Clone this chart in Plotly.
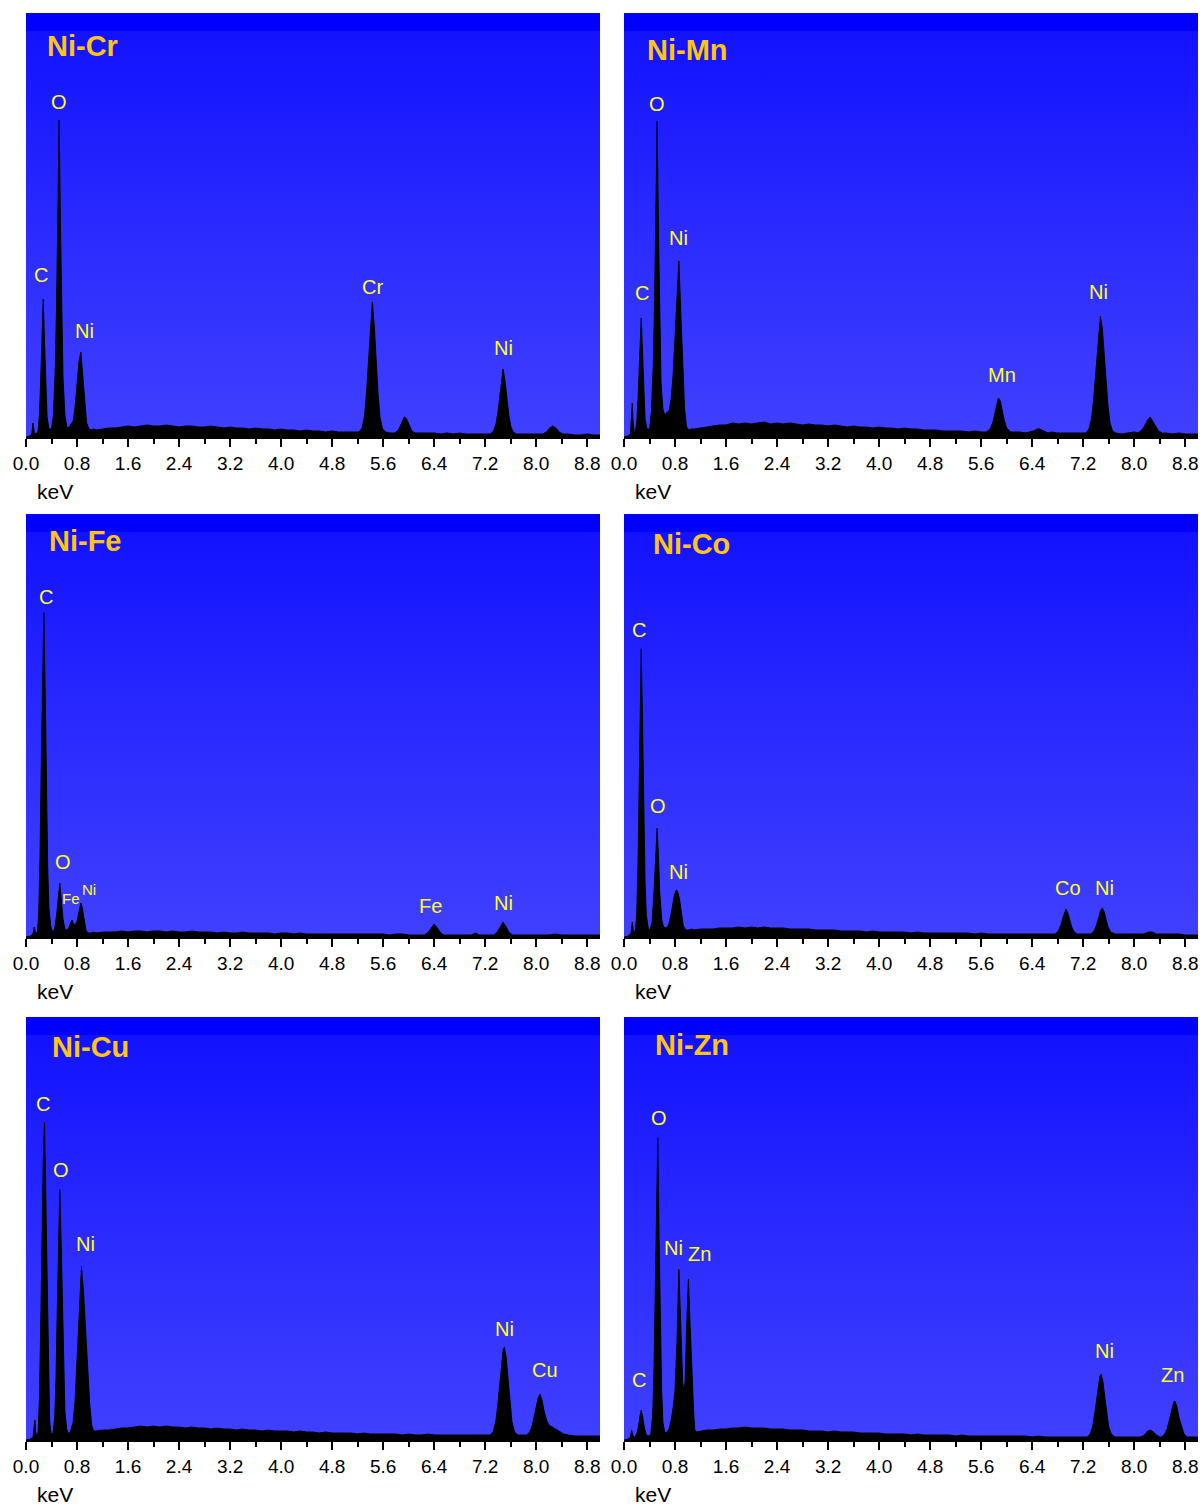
import plotly.graph_objects as go

# ---------------------------------------------------------------------------
# EDS spectra of six Ni-based samples. Counts are in arbitrary units.
# Each spectrum = low-energy cluster (C, O, L lines) + continuum sampled every
# 0.1 keV from 1.1 keV to 9.0 keV + K-line peak outlines.
# ---------------------------------------------------------------------------
CONT_START, CONT_STEP = 1.1, 0.1

# ---- Ni-Cr ----
ni_cr_low = [(0.00, 0), (0.06, 1), (0.09, 3), (0.11, 14), (0.13, 4), (0.16, 3), (0.19, 6),
             (0.21, 22), (0.23, 55), (0.25, 100), (0.27, 138), (0.29, 95), (0.31, 50), (0.33, 20),
             (0.36, 8), (0.40, 8), (0.43, 22), (0.46, 70), (0.48, 135), (0.50, 220), (0.52, 317),
             (0.54, 210), (0.56, 125), (0.58, 60), (0.61, 22), (0.64, 10), (0.66, 9), (0.70, 12),
             (0.74, 16), (0.77, 30), (0.80, 52), (0.83, 75), (0.86, 85), (0.89, 60), (0.92, 32),
             (0.95, 14), (0.99, 8), (1.03, 7), (1.06, 8)]
ni_cr_cont = [7, 8, 9, 9, 10, 11, 10, 11, 12, 11,
              11, 12, 11, 10, 11, 11, 10, 10, 11, 10,
              9, 10, 9, 9, 8, 9, 8, 8, 7, 8,
              7, 7, 6, 7, 6, 6, 5, 6, 5, 5,
              5, 5, 5, 5, 5, 5, 4, 5, 5, 4,
              4, 4, 4, 4, 3, 4, 3, 4, 3, 3,
              3, 3, 3, 3, 3, 3, 3, 3, 3, 3,
              3, 3, 3, 3, 3, 2, 2, 3, 2, 2]
ni_cr_peaks = [
    [(5.22, 5), (5.27, 9), (5.31, 22), (5.34, 45), (5.37, 78), (5.40, 115), (5.43, 135),
     (5.46, 112), (5.49, 76), (5.52, 43), (5.55, 20), (5.59, 8), (5.64, 5)],            # Cr Ka
    [(5.78, 4), (5.84, 7), (5.89, 14), (5.93, 20), (5.96, 19), (6.00, 13), (6.05, 6), (6.10, 4)],  # Cr Kb
    [(7.28, 3), (7.33, 6), (7.37, 13), (7.40, 25), (7.43, 40), (7.46, 58), (7.48, 68),
     (7.51, 56), (7.54, 38), (7.57, 22), (7.60, 11), (7.64, 5), (7.69, 3)],             # Ni Ka
    [(8.10, 3), (8.16, 5), (8.21, 9), (8.26, 11), (8.31, 9), (8.36, 5), (8.42, 3)],      # Ni Kb
]
ni_cr_labels = [("O", 0.52, 335), ("C", 0.24, 162), ("Ni", 0.91, 106),
                ("Cr", 5.43, 150), ("Ni", 7.48, 89)]

# ---- Ni-Mn ----
ni_mn_low = [(0.00, 0), (0.06, 1), (0.10, 3), (0.12, 20), (0.13, 34), (0.14, 18), (0.16, 5),
             (0.18, 6), (0.20, 15), (0.22, 38), (0.24, 75), (0.27, 119), (0.29, 85), (0.31, 45),
             (0.33, 18), (0.36, 8), (0.40, 8), (0.43, 25), (0.46, 75), (0.48, 140), (0.50, 225),
             (0.52, 316), (0.54, 205), (0.56, 120), (0.58, 55), (0.61, 28), (0.64, 22), (0.68, 25),
             (0.71, 27), (0.74, 38), (0.77, 62), (0.80, 100), (0.83, 145), (0.86, 176), (0.89, 125),
             (0.92, 70), (0.95, 28), (0.98, 10), (1.02, 7), (1.06, 8)]
ni_mn_cont = [8, 9, 10, 11, 12, 12, 14, 13, 14, 13,
              14, 15, 13, 14, 13, 14, 13, 12, 13, 12,
              12, 11, 12, 11, 10, 11, 10, 10, 9, 10,
              9, 9, 8, 9, 8, 8, 7, 7, 7, 6,
              6, 6, 6, 5, 6, 5, 5, 5, 5, 5,
              5, 5, 4, 5, 7, 6, 5, 4, 4, 4,
              4, 4, 4, 4, 4, 4, 4, 3, 4, 5,
              4, 4, 4, 4, 4, 3, 4, 3, 3, 3]
ni_mn_peaks = [
    [(5.68, 5), (5.74, 8), (5.78, 14), (5.81, 22), (5.84, 31), (5.87, 39), (5.90, 36),
     (5.93, 27), (5.96, 17), (6.00, 9), (6.06, 5)],                                      # Mn Ka
    [(6.35, 5), (6.42, 6), (6.48, 8), (6.52, 8), (6.58, 6), (6.65, 4)],                  # Mn Kb
    [(7.24, 4), (7.29, 8), (7.33, 18), (7.36, 35), (7.39, 60), (7.42, 88), (7.45, 112),
     (7.47, 121), (7.50, 108), (7.53, 82), (7.56, 55), (7.59, 30), (7.62, 14), (7.66, 6),
     (7.71, 4)],                                                                         # Ni Ka
    [(8.06, 4), (8.12, 7), (8.17, 12), (8.21, 17), (8.25, 20), (8.29, 16), (8.33, 11),
     (8.38, 6), (8.44, 4)],                                                              # Ni Kb
]
ni_mn_labels = [("O", 0.52, 333), ("Ni", 0.85, 199), ("C", 0.28, 144),
                ("Ni", 7.44, 145), ("Mn", 5.93, 62)]

# ---- Ni-Fe ----
ni_fe_low = [(0.00, 0), (0.07, 1), (0.11, 3), (0.13, 10), (0.15, 4), (0.18, 5), (0.20, 25),
             (0.22, 80), (0.24, 175), (0.26, 270), (0.28, 325), (0.30, 250), (0.32, 150),
             (0.34, 70), (0.36, 28), (0.39, 10), (0.42, 5), (0.45, 8), (0.48, 22), (0.51, 42),
             (0.53, 54), (0.55, 40), (0.58, 18), (0.61, 8), (0.64, 7), (0.67, 9), (0.70, 15),
             (0.72, 17), (0.74, 14), (0.77, 12), (0.80, 16), (0.83, 26), (0.86, 34), (0.88, 30),
             (0.91, 17), (0.94, 7), (0.97, 4), (1.02, 4), (1.06, 5)]
ni_fe_cont = [4, 5, 5, 5, 6, 5, 6, 6, 5, 6,
              6, 5, 6, 5, 5, 6, 5, 5, 5, 4,
              5, 4, 4, 5, 4, 4, 4, 4, 3, 4,
              4, 3, 4, 3, 3, 3, 3, 3, 3, 3,
              3, 3, 3, 3, 3, 3, 2, 3, 3, 2,
              2, 2, 2, 2, 2, 2, 2, 2, 2, 3,
              3, 2, 2, 2, 2, 2, 2, 2, 2, 2,
              2, 2, 3, 2, 2, 2, 2, 2, 2, 2]
ni_fe_peaks = [
    [(6.25, 2), (6.31, 5), (6.35, 9), (6.40, 13), (6.45, 9), (6.49, 5), (6.55, 2)],      # Fe Ka
    [(6.98, 2), (7.05, 4), (7.11, 2)],                                                   # Fe Kb
    [(7.33, 2), (7.39, 5), (7.43, 10), (7.48, 15), (7.53, 10), (7.57, 5), (7.63, 2)],    # Ni Ka
]
ni_fe_labels = [("C", 0.31, 341), ("O", 0.58, 75), ("Fe", 6.35, 31), ("Ni", 7.48, 34)]
ni_fe_small_labels = [("Fe", 0.71, 39), ("Ni", 0.99, 48)]

# ---- Ni-Co ----
ni_co_low = [(0.00, 0), (0.07, 1), (0.11, 4), (0.13, 15), (0.15, 5), (0.18, 6), (0.20, 25),
             (0.22, 75), (0.24, 160), (0.26, 245), (0.27, 289), (0.29, 215), (0.31, 120),
             (0.33, 55), (0.35, 22), (0.38, 9), (0.41, 7), (0.44, 15), (0.47, 45), (0.50, 85),
             (0.52, 109), (0.54, 80), (0.56, 45), (0.59, 18), (0.62, 10), (0.66, 9), (0.70, 12),
             (0.73, 20), (0.76, 32), (0.79, 42), (0.82, 47), (0.84, 46), (0.87, 38), (0.90, 22),
             (0.93, 11), (0.97, 7), (1.02, 7), (1.06, 8)]
ni_co_cont = [7, 8, 8, 8, 9, 9, 9, 10, 9, 10,
              9, 10, 9, 9, 9, 8, 8, 8, 8, 7,
              7, 7, 7, 6, 6, 6, 6, 5, 6, 5,
              5, 5, 5, 5, 4, 5, 4, 4, 4, 4,
              4, 4, 4, 4, 3, 4, 3, 3, 3, 3,
              3, 3, 3, 3, 3, 3, 3, 3, 3, 3,
              3, 3, 3, 3, 3, 3, 3, 3, 3, 3,
              3, 3, 4, 3, 3, 3, 3, 2, 2, 2]
ni_co_peaks = [
    [(6.76, 3), (6.81, 6), (6.85, 12), (6.88, 19), (6.91, 25), (6.93, 28), (6.96, 24),
     (6.99, 17), (7.02, 10), (7.06, 5), (7.11, 3)],                                      # Co Ka
    [(7.32, 3), (7.37, 6), (7.41, 12), (7.44, 19), (7.47, 26), (7.50, 29), (7.53, 25),
     (7.56, 17), (7.59, 10), (7.63, 5), (7.68, 3)],                                      # Ni Ka
    [(8.15, 3), (8.22, 5), (8.28, 5), (8.35, 3)],                                        # Ni Kb
]
ni_co_labels = [("C", 0.24, 308), ("O", 0.53, 131), ("Ni", 0.86, 65),
                ("Co", 6.96, 49), ("Ni", 7.53, 49)]

# ---- Ni-Cu ----
ni_cu_low = [(0.00, 0), (0.07, 1), (0.11, 3), (0.13, 12), (0.14, 20), (0.15, 8), (0.17, 4),
             (0.19, 8), (0.21, 40), (0.23, 110), (0.25, 200), (0.27, 280), (0.29, 318),
             (0.31, 240), (0.33, 140), (0.35, 60), (0.37, 20), (0.39, 7), (0.42, 6), (0.45, 22),
             (0.47, 60), (0.49, 130), (0.51, 200), (0.53, 251), (0.55, 200), (0.57, 130),
             (0.59, 65), (0.61, 28), (0.64, 10), (0.67, 6), (0.70, 9), (0.74, 18), (0.77, 40),
             (0.80, 78), (0.84, 135), (0.87, 174), (0.90, 150), (0.93, 118), (0.95, 98),
             (0.98, 55), (1.00, 35), (1.03, 15), (1.06, 9)]
ni_cu_cont = [9, 10, 10, 11, 12, 12, 13, 14, 13, 14,
              13, 14, 13, 13, 12, 13, 12, 12, 11, 12,
              11, 11, 10, 11, 10, 10, 9, 10, 9, 9,
              9, 8, 9, 8, 8, 7, 8, 7, 7, 7,
              7, 6, 7, 6, 6, 6, 6, 6, 5, 6,
              5, 5, 6, 5, 5, 5, 5, 5, 5, 5,
              5, 5, 5, 5, 5, 5, 5, 5, 5, 5,
              5, 5, 5, 4, 4, 4, 4, 4, 4, 4]
ni_cu_peaks = [
    [(7.28, 5), (7.33, 9), (7.37, 20), (7.40, 37), (7.43, 58), (7.46, 80), (7.48, 90),
     (7.50, 93), (7.53, 82), (7.56, 60), (7.59, 36), (7.62, 18), (7.66, 8), (7.71, 5)],  # Ni Ka
    [(7.85, 5), (7.90, 8), (7.94, 15), (7.97, 24), (8.00, 34), (8.03, 42), (8.06, 46),
     (8.09, 40), (8.12, 30), (8.16, 20), (8.20, 15), (8.25, 13), (8.30, 11), (8.36, 8),
     (8.43, 6), (8.50, 5)],                                                              # Cu Ka + Ni Kb
]
ni_cu_labels = [("C", 0.27, 337), ("O", 0.55, 271), ("Ni", 0.93, 196),
                ("Ni", 7.51, 111), ("Cu", 8.14, 70)]

# ---- Ni-Zn ----
ni_zn_low = [(0.00, 0), (0.07, 1), (0.10, 3), (0.12, 10), (0.14, 4), (0.17, 3), (0.20, 6),
             (0.23, 14), (0.25, 24), (0.27, 30), (0.29, 24), (0.32, 12), (0.35, 5), (0.39, 4),
             (0.42, 6), (0.45, 25), (0.47, 70), (0.49, 135), (0.51, 220), (0.53, 303), (0.55, 200),
             (0.57, 120), (0.59, 50), (0.61, 18), (0.64, 7), (0.68, 8), (0.71, 12), (0.74, 20),
             (0.77, 32), (0.80, 50), (0.83, 97), (0.86, 171), (0.88, 130), (0.90, 85), (0.92, 58),
             (0.94, 47), (0.96, 60), (0.98, 110), (1.01, 161), (1.03, 125), (1.05, 85), (1.07, 63),
             (1.09, 30), (1.11, 10), (1.14, 8)]
ni_zn_cont = [8, 9, 10, 10, 11, 11, 12, 12, 13, 12,
              12, 12, 11, 11, 11, 10, 10, 10, 9, 9,
              9, 8, 9, 8, 8, 8, 7, 7, 7, 7,
              6, 6, 6, 6, 5, 6, 5, 5, 5, 5,
              5, 4, 5, 4, 4, 4, 4, 4, 4, 4,
              4, 4, 4, 3, 4, 3, 3, 3, 3, 3,
              3, 3, 3, 3, 3, 3, 3, 3, 3, 3,
              3, 3, 3, 3, 3, 3, 3, 3, 3, 3]
ni_zn_peaks = [
    [(7.26, 3), (7.31, 6), (7.35, 14), (7.38, 26), (7.41, 42), (7.44, 56), (7.46, 63),
     (7.48, 66), (7.51, 58), (7.54, 42), (7.57, 26), (7.60, 13), (7.64, 6), (7.69, 3)],  # Ni Ka
    [(8.10, 3), (8.16, 5), (8.21, 9), (8.25, 10), (8.30, 8), (8.35, 5), (8.40, 3)],      # Ni Kb
    [(8.43, 3), (8.48, 6), (8.52, 12), (8.56, 22), (8.59, 31), (8.62, 38), (8.64, 39),
     (8.67, 33), (8.70, 23), (8.74, 13), (8.78, 6), (8.83, 3)],                          # Zn Ka
]
ni_zn_labels = [("O", 0.55, 323), ("Ni", 0.78, 192), ("Zn", 1.18, 186), ("C", 0.24, 60),
                ("Ni", 7.53, 89), ("Zn", 8.60, 65)]

# energy axis ticks
KEV_TICKS = [0.0, 0.8, 1.6, 2.4, 3.2, 4.0, 4.8, 5.6, 6.4, 7.2, 8.0, 8.8]
KEV_TICK_TEXT = ["0.0", "0.8", "1.6", "2.4", "3.2", "4.0", "4.8", "5.6", "6.4", "7.2", "8.0", "8.8"]
KEV_MINOR = [0.4, 1.2, 2.0, 2.8, 3.6, 4.4, 5.2, 6.0, 6.8, 7.6, 8.4]

PANELS = [
    dict(name="Ni-Cr", low=ni_cr_low, cont=ni_cr_cont, peaks=ni_cr_peaks, labels=ni_cr_labels),
    dict(name="Ni-Mn", low=ni_mn_low, cont=ni_mn_cont, peaks=ni_mn_peaks, labels=ni_mn_labels),
    dict(name="Ni-Fe", low=ni_fe_low, cont=ni_fe_cont, peaks=ni_fe_peaks, labels=ni_fe_labels,
         small=ni_fe_small_labels),
    dict(name="Ni-Co", low=ni_co_low, cont=ni_co_cont, peaks=ni_co_peaks, labels=ni_co_labels),
    dict(name="Ni-Cu", low=ni_cu_low, cont=ni_cu_cont, peaks=ni_cu_peaks, labels=ni_cu_labels),
    dict(name="Ni-Zn", low=ni_zn_low, cont=ni_zn_cont, peaks=ni_zn_peaks, labels=ni_zn_labels),
]

# ---------------------------------------------------------------------------
# layout geometry (pixels) and styling
# ---------------------------------------------------------------------------
FIG_W, FIG_H = 1202, 1506
COL_X = [(26, 600), (624, 1198)]
ROW_Y = [(13, 437), (514, 937), (1017, 1440)]
KEV_RANGE = [0, 9.0]
COUNT_RANGE = [0, 424]
BAND_FRAC = 18 / 424          # dark band along the top of each panel
TITLE_POS = [(0.098, 0.922), (0.110, 0.912), (0.103, 0.936),
             (0.118, 0.929), (0.112, 0.929), (0.118, 0.934)]

FONT = "Liberation Sans, Arial, sans-serif"
TITLE_COLOR = "#FFC414"
LABEL_COLOR = "#FFFF1A"
BG_SCALE = [[0.0, "rgb(64,64,255)"], [0.5, "rgb(42,42,255)"],
            [1 - BAND_FRAC - 0.001, "rgb(18,18,255)"], [1 - BAND_FRAC, "rgb(0,0,255)"],
            [1.0, "rgb(0,0,255)"]]


def build_spectrum(low, cont, peaks):
    """Merge the low-energy cluster, continuum samples and peak outlines."""
    blocks = [low] + peaks
    spans = [(b[0][0], b[-1][0]) for b in blocks]
    pts = []
    for i, c in enumerate(cont):
        e = round(CONT_START + CONT_STEP * i, 2)
        if any(a <= e <= b for a, b in spans):
            continue
        pts.append((e, c))
    for b in blocks:
        pts.extend(b)
    pts.sort()
    return [p[0] for p in pts], [p[1] for p in pts]


fig = go.Figure()
layout = dict(width=FIG_W, height=FIG_H,
              margin=dict(l=0, r=0, t=0, b=0, pad=0, autoexpand=False),
              paper_bgcolor="white", plot_bgcolor="rgb(64,64,255)", showlegend=False,
              annotations=[])

for i, p in enumerate(PANELS):
    n = i + 1
    row, col = divmod(i, 2)
    xs = "" if n == 1 else str(n)
    xref, yref = "x" + xs, "y" + xs
    x0, x1 = COL_X[col]
    y0, y1 = ROW_Y[row]

    # gradient background of the panel
    fig.add_trace(go.Scatter(
        x=[KEV_RANGE[0], KEV_RANGE[1], KEV_RANGE[1], KEV_RANGE[0], KEV_RANGE[0]],
        y=[COUNT_RANGE[0], COUNT_RANGE[0], COUNT_RANGE[1], COUNT_RANGE[1], COUNT_RANGE[0]],
        mode="none", fill="toself",
        fillgradient=dict(type="vertical", colorscale=BG_SCALE,
                          start=COUNT_RANGE[0], stop=COUNT_RANGE[1]),
        hoverinfo="skip", xaxis=xref, yaxis=yref))

    # the spectrum itself
    kev, counts = build_spectrum(p["low"], p["cont"], p["peaks"])
    fig.add_trace(go.Scatter(x=kev, y=counts, mode="lines", fill="tozeroy",
                             line=dict(color="black", width=1), fillcolor="black",
                             xaxis=xref, yaxis=yref))

    layout["xaxis" + xs] = dict(
        domain=[x0 / FIG_W, x1 / FIG_W], anchor=yref, range=KEV_RANGE, automargin=False,
        showgrid=False, zeroline=False, showline=True, linecolor="black", linewidth=2,
        ticks="outside", ticklen=8, tickwidth=2, tickcolor="black",
        tickmode="array", tickvals=KEV_TICKS, ticktext=KEV_TICK_TEXT,
        tickfont=dict(family=FONT, size=19, color="black"),
        minor=dict(tickmode="array", tickvals=KEV_MINOR, ticks="outside",
                   ticklen=5, tickwidth=2, tickcolor="black"),
        fixedrange=True)
    layout["yaxis" + xs] = dict(
        domain=[1 - y1 / FIG_H, 1 - y0 / FIG_H], anchor=xref, range=COUNT_RANGE,
        automargin=False, visible=False, showgrid=False, zeroline=False, fixedrange=True)

    # panel title
    tx, ty = TITLE_POS[i]
    layout["annotations"].append(dict(
        text="<b>%s</b>" % p["name"], xref=xref + " domain", yref=yref + " domain",
        x=tx, y=ty, xanchor="center", yanchor="middle", showarrow=False,
        font=dict(family=FONT, size=29, color=TITLE_COLOR)))

    # peak labels
    for text, e, c in p["labels"]:
        layout["annotations"].append(dict(
            text=text, xref=xref, yref=yref, x=e, y=c, xanchor="center", yanchor="middle",
            showarrow=False, font=dict(family=FONT, size=20, color=LABEL_COLOR)))
    for text, e, c in p.get("small", []):
        layout["annotations"].append(dict(
            text=text, xref=xref, yref=yref, x=e, y=c, xanchor="center", yanchor="middle",
            showarrow=False, font=dict(family=FONT, size=15, color=LABEL_COLOR)))

    # axis unit
    layout["annotations"].append(dict(
        text="keV", xref=xref + " domain", yref=yref + " domain",
        x=(55 - 26) / 574 if col == 0 else (653 - 624) / 574, y=-55 / 424,
        xanchor="center", yanchor="middle", showarrow=False,
        font=dict(family=FONT, size=21, color="black")))

fig.update_layout(**layout)
fig.write_html("out.html")
